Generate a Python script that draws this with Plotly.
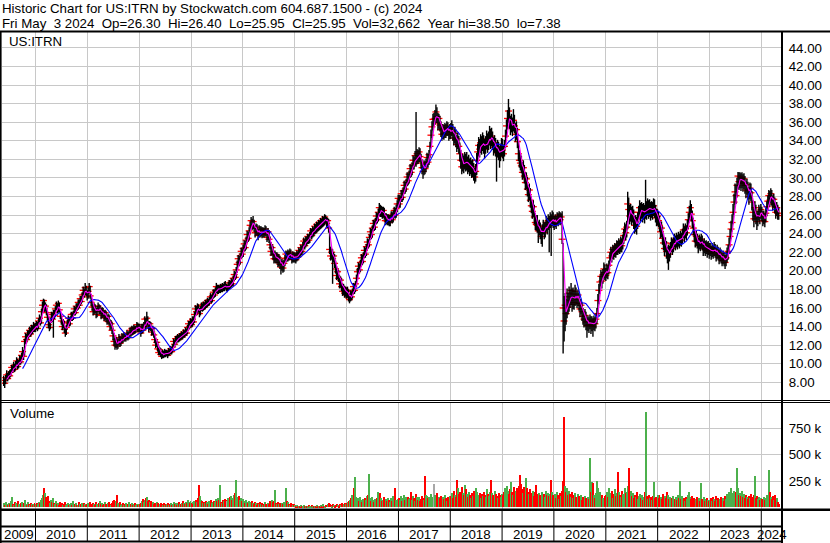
import pandas as pd
import plotly.graph_objects as go

# ---------------- weekly data, one block per calendar year ----------------
c2009 = [8.2, 7.9, 8.5, 8.8, 8.4, 8.9, 8.7, 9.1, 9.6, 9.3, 9.8, 9.4, 9.9, 10.3, 9.7, 10.1, 10.5, 10.2, 10.9, 11.3, 10.8, 12.4, 12.9, 12.6, 13.3, 13.0, 13.6, 13.2, 13.8, 13.5, 14.1, 13.7]
h2009 = [8.7, 8.4, 8.8, 9.3, 9.0, 9.2, 9.3, 9.4, 9.9, 9.8, 10.2, 10.0, 10.3, 10.7, 10.5, 10.4, 10.9, 10.8, 11.2, 11.8, 11.5, 12.7, 13.3, 13.2, 13.6, 13.6, 14.0, 13.9, 14.2, 14.1, 14.5, 14.3]
l2009 = [7.6, 7.38, 7.8, 8.3, 8.1, 8.3, 8.4, 8.6, 9.0, 9.0, 9.2, 9.1, 9.3, 9.8, 9.4, 9.5, 9.9, 9.9, 10.1, 10.7, 10.4, 10.9, 12.1, 12.2, 12.5, 12.7, 12.9, 12.9, 13.1, 13.2, 13.4, 13.4]
v2009 = [40, 25, 55, 30, 20, 45, 35, 60, 100, 30, 25, 50, 40, 30, 65, 35, 25, 45, 55, 30, 40, 70, 35, 25, 50, 30, 20, 40, 35, 25, 30, 45]

c2010 = [13.9, 14.3, 13.8, 14.6, 14.9, 14.4, 15.6, 16.3, 16.8, 15.9, 16.2, 15.5, 15.0, 14.2, 13.9, 14.6, 15.3, 14.8, 15.5, 15.2, 15.9, 16.3, 15.7, 16.5, 15.8, 15.1, 14.6, 14.0, 14.5, 13.7, 13.3, 13.9, 14.4, 14.9, 14.3, 14.8, 15.3, 14.9, 15.4, 15.9, 15.5, 16.2, 16.0, 16.6, 16.3, 17.0, 16.7, 17.4, 17.9, 17.5, 18.2, 17.6, 17.2]
h2010 = [14.4, 14.6, 14.5, 14.9, 15.3, 15.1, 15.9, 16.7, 17.0, 16.9, 16.6, 16.4, 15.7, 15.2, 14.5, 14.9, 15.6, 15.5, 15.8, 15.8, 16.2, 16.7, 16.5, 16.8, 16.6, 15.9, 15.3, 14.8, 14.8, 14.6, 13.9, 14.2, 14.7, 15.2, 15.0, 15.1, 15.6, 15.5, 15.7, 16.2, 16.1, 16.5, 16.5, 16.9, 16.9, 17.3, 17.3, 17.7, 18.3, 18.1, 18.7, 18.4, 17.9]
l2010 = [13.4, 13.7, 13.5, 13.7, 14.3, 14.1, 14.3, 15.4, 16.0, 15.6, 15.6, 15.2, 14.6, 13.8, 13.5, 13.7, 14.4, 14.5, 12.8, 14.8, 15.0, 15.7, 15.4, 15.5, 15.5, 14.8, 14.2, 13.6, 13.8, 13.3, 12.9, 13.1, 13.7, 14.2, 14.0, 14.1, 14.6, 14.6, 14.7, 15.2, 15.2, 15.4, 15.7, 15.8, 16.0, 16.2, 16.4, 16.6, 17.2, 17.1, 17.4, 17.3, 16.8]
v2010 = [35, 25, 40, 30, 55, 45, 70, 90, 120, 183, 140, 95, 80, 110, 60, 45, 75, 50, 90, 40, 35, 60, 30, 45, 25, 50, 35, 40, 20, 30, 55, 25, 35, 45, 20, 30, 40, 25, 60, 35, 30, 45, 20, 25, 50, 35, 30, 40, 25, 45, 30, 20, 35]

c2011 = [17.8, 18.3, 17.3, 16.6, 16.1, 15.6, 16.2, 15.8, 15.3, 15.9, 16.2, 15.6, 15.9, 15.2, 15.7, 15.4, 15.0, 15.5, 14.9, 14.6, 15.1, 14.5, 14.0, 14.3, 13.6, 13.0, 12.4, 12.0, 12.6, 11.9, 12.3, 12.8, 12.2, 12.5, 12.9, 12.6, 13.1, 12.7, 12.9, 13.3, 12.8, 13.2, 13.6, 13.2, 13.8, 13.4, 13.9, 13.5, 13.8, 14.2, 13.7, 14.0]
h2011 = [18.2, 18.7, 18.4, 17.5, 16.9, 16.4, 16.5, 16.4, 16.0, 16.2, 16.6, 16.4, 16.3, 16.0, 16.1, 16.0, 15.7, 15.8, 15.7, 15.2, 15.4, 15.3, 14.8, 14.7, 14.5, 13.9, 13.3, 12.8, 12.9, 12.8, 12.6, 13.2, 13.0, 12.9, 13.3, 13.2, 13.4, 13.3, 13.2, 13.6, 13.5, 13.5, 13.9, 13.9, 14.1, 14.0, 14.2, 14.1, 14.1, 14.5, 14.4, 14.3]
l2011 = [17.0, 17.6, 17.0, 16.2, 15.7, 15.2, 15.3, 15.4, 14.9, 15.0, 15.6, 15.3, 15.3, 14.8, 14.9, 15.0, 14.6, 14.7, 14.5, 14.2, 14.3, 14.1, 13.6, 13.7, 13.2, 12.5, 11.9, 11.5, 11.7, 11.5, 11.6, 12.0, 11.8, 11.9, 12.2, 12.2, 12.4, 12.4, 12.4, 12.6, 12.5, 12.6, 12.9, 12.9, 13.0, 13.1, 13.2, 13.2, 13.3, 13.6, 13.4, 13.4]
v2011 = [40, 30, 55, 25, 35, 45, 30, 20, 50, 35, 25, 40, 60, 30, 45, 25, 35, 50, 30, 20, 40, 55, 35, 25, 45, 60, 70, 50, 65, 120, 40, 35, 50, 25, 30, 45, 20, 35, 40, 25, 30, 50, 20, 35, 45, 25, 30, 40, 20, 35, 25, 30]

c2012 = [13.7, 13.3, 14.0, 13.6, 14.2, 14.8, 14.0, 14.9, 14.4, 13.8, 14.3, 13.9, 13.4, 13.8, 13.1, 12.6, 12.0, 12.3, 11.6, 11.2, 11.5, 11.0, 10.8, 11.2, 10.9, 11.3, 11.0, 11.2, 10.9, 11.4, 11.2, 11.6, 11.3, 11.8, 12.4, 12.1, 12.7, 12.5, 12.9, 12.6, 13.0, 12.8, 13.2, 12.9, 13.4, 13.1, 13.6, 13.3, 13.9, 14.3, 14.0, 14.6]
h2012 = [14.3, 14.0, 14.3, 14.3, 14.5, 15.1, 14.9, 15.6, 15.1, 14.6, 14.6, 14.5, 14.1, 14.1, 13.9, 13.3, 12.8, 12.6, 12.4, 11.9, 11.8, 11.7, 11.3, 11.5, 11.4, 11.6, 11.5, 11.5, 11.4, 11.7, 11.6, 11.9, 11.8, 12.1, 12.7, 12.6, 13.0, 13.0, 13.2, 13.1, 13.3, 13.3, 13.5, 13.4, 13.7, 13.6, 13.9, 13.8, 14.2, 14.6, 14.6, 14.9]
l2012 = [13.4, 12.9, 13.2, 13.3, 13.5, 14.0, 13.7, 13.9, 14.1, 13.4, 13.6, 13.5, 13.0, 13.1, 12.8, 12.2, 11.7, 11.8, 11.3, 10.9, 10.9, 10.7, 10.5, 10.6, 10.6, 10.7, 10.7, 10.8, 10.6, 10.8, 10.9, 11.0, 11.0, 11.2, 11.7, 11.8, 12.0, 12.2, 12.3, 12.3, 12.4, 12.5, 12.6, 12.6, 12.8, 12.8, 13.0, 13.0, 13.2, 13.7, 13.7, 13.9]
v2012 = [30, 45, 60, 80, 55, 70, 90, 100, 65, 75, 50, 60, 40, 55, 35, 45, 30, 50, 40, 25, 35, 45, 30, 20, 40, 25, 35, 30, 45, 20, 30, 40, 25, 35, 50, 30, 45, 25, 40, 55, 35, 30, 45, 60, 40, 35, 50, 45, 70, 55, 40, 60]

c2013 = [14.2, 14.8, 14.5, 15.3, 15.9, 15.6, 16.2, 15.8, 15.4, 15.9, 16.3, 15.9, 16.4, 16.1, 16.6, 16.3, 16.8, 16.5, 16.9, 17.2, 16.8, 17.3, 17.7, 17.4, 17.9, 18.3, 17.8, 18.2, 17.9, 18.3, 18.0, 18.4, 18.1, 18.5, 18.4, 18.1, 18.1, 18.3, 18.7, 18.4, 18.9, 18.6, 19.2, 19.6, 19.3, 20.1, 20.7, 21.3, 20.9, 21.6, 22.1, 21.8]
h2013 = [14.8, 15.1, 15.1, 15.6, 16.3, 16.2, 16.5, 16.4, 16.0, 16.2, 16.6, 16.5, 16.7, 16.6, 16.9, 16.8, 17.1, 17.0, 17.2, 17.6, 17.4, 17.6, 18.0, 18.0, 18.2, 18.7, 18.5, 18.5, 18.4, 18.6, 18.5, 18.7, 18.6, 18.8, 18.9, 18.6, 18.5, 18.8, 19.0, 18.9, 19.2, 19.1, 19.5, 20.0, 19.9, 20.4, 21.1, 21.7, 21.6, 21.9, 22.5, 22.4]
l2013 = [13.9, 14.0, 14.2, 14.4, 15.1, 15.2, 15.4, 15.5, 15.0, 15.2, 15.7, 15.6, 15.7, 15.8, 15.9, 16.0, 16.1, 16.2, 16.3, 16.6, 16.5, 16.6, 17.0, 17.1, 17.2, 17.6, 17.5, 17.5, 17.6, 17.6, 17.7, 17.7, 17.8, 17.8, 18.0, 17.8, 17.7, 17.9, 18.0, 18.1, 18.2, 18.3, 18.4, 18.9, 19.0, 19.2, 19.8, 20.4, 20.5, 20.7, 21.3, 21.4]
v2013 = [40, 55, 35, 60, 45, 70, 50, 85, 214, 110, 75, 60, 45, 55, 40, 65, 50, 35, 60, 45, 70, 40, 55, 65, 50, 80, 60, 90, 70, 214, 55, 45, 75, 60, 80, 70, 65, 85, 60, 95, 110, 75, 90, 120, 140, 261, 95, 80, 110, 70, 90, 65]

c2014 = [22.4, 22.9, 22.5, 23.3, 23.9, 23.5, 24.3, 24.9, 25.4, 24.8, 25.3, 24.6, 24.1, 24.7, 24.2, 23.8, 24.5, 24.0, 24.4, 23.9, 24.3, 24.0, 24.5, 24.1, 23.6, 24.2, 23.4, 22.8, 22.1, 22.5, 21.7, 21.3, 21.8, 21.2, 21.6, 20.9, 21.4, 20.7, 20.4, 20.9, 20.3, 20.8, 21.3, 21.8, 21.4, 21.9, 21.5, 22.0, 21.6, 21.2, 21.7, 21.3]
h2014 = [22.8, 23.3, 23.2, 23.7, 24.3, 24.2, 24.7, 25.3, 25.8, 25.6, 25.9, 25.5, 24.9, 25.1, 25.0, 24.5, 24.9, 24.8, 24.8, 24.7, 24.7, 24.6, 24.9, 24.8, 24.4, 24.6, 24.4, 23.7, 23.1, 22.9, 22.7, 22.0, 22.2, 22.0, 22.0, 21.8, 21.8, 21.6, 21.1, 21.3, 21.1, 21.2, 21.7, 22.2, 22.1, 22.3, 22.2, 22.4, 22.3, 21.9, 22.1, 22.0]
l2014 = [21.5, 22.1, 22.1, 22.3, 23.0, 23.1, 23.3, 24.0, 24.6, 24.4, 24.5, 24.2, 23.6, 23.8, 23.8, 23.3, 23.6, 23.6, 23.7, 23.5, 23.6, 23.6, 23.7, 23.7, 23.1, 23.3, 23.0, 22.3, 21.6, 21.7, 21.2, 20.8, 20.9, 20.8, 20.8, 20.4, 20.5, 20.2, 19.6, 20.0, 19.8, 19.9, 20.5, 20.9, 21.0, 21.0, 21.1, 21.2, 21.2, 20.8, 20.9, 20.9]
v2014 = [80, 60, 45, 70, 55, 40, 65, 50, 35, 60, 45, 30, 50, 40, 25, 45, 35, 55, 30, 40, 25, 35, 50, 30, 20, 40, 35, 60, 45, 70, 55, 65, 167, 40, 35, 50, 30, 45, 25, 40, 35, 55, 30, 183, 60, 50, 35, 25, 40, 30, 20, 35]

c2015 = [21.6, 21.2, 21.9, 21.5, 22.2, 21.8, 22.5, 22.1, 22.8, 23.2, 22.7, 23.4, 23.1, 23.7, 23.3, 23.9, 24.3, 23.8, 24.5, 24.1, 24.8, 24.4, 25.0, 24.6, 25.2, 24.8, 25.4, 25.0, 25.6, 25.2, 25.8, 25.5, 25.1, 25.4, 24.6, 22.3, 21.6, 22.0, 21.3, 21.6, 20.8, 20.2, 19.5, 19.9, 19.2, 18.6, 19.0, 18.3, 17.8, 18.2, 17.6, 18.0]
h2015 = [22.0, 21.9, 22.2, 22.1, 22.5, 22.4, 22.8, 22.7, 23.1, 23.6, 23.4, 23.7, 23.7, 24.0, 23.9, 24.2, 24.6, 24.5, 24.8, 24.7, 25.1, 25.0, 25.3, 25.2, 25.5, 25.4, 25.7, 25.6, 25.9, 25.8, 26.1, 26.0, 25.8, 25.7, 25.6, 24.8, 22.6, 22.4, 22.3, 22.0, 21.8, 21.1, 20.5, 20.3, 20.1, 19.5, 19.4, 19.2, 18.6, 18.6, 18.4, 18.3]
l2015 = [20.9, 20.8, 21.0, 21.1, 21.3, 21.4, 21.6, 21.7, 21.9, 22.5, 22.3, 22.5, 22.7, 22.9, 22.9, 23.0, 23.6, 23.4, 23.6, 23.7, 23.9, 24.0, 24.1, 24.2, 24.3, 24.4, 24.5, 24.6, 24.7, 24.8, 24.9, 25.1, 24.7, 24.6, 24.1, 21.8, 21.1, 21.2, 18.6, 20.9, 20.3, 19.7, 19.0, 19.1, 18.8, 18.1, 18.2, 17.8, 17.3, 17.4, 17.1, 17.2]
v2015 = [20, 15, 25, 10, 18, 12, 22, 15, 10, 20, 14, 8, 16, 12, 25, 10, 15, 20, 12, 9, 18, 14, 22, 10, 16, 12, 20, 15, 30, 18, 12, 25, 20, 35, 40, 28, 22, 18, 30, 25, 15, 20, 35, 25, 18, 30, 22, 40, 28, 35, 45, 30]

c2016 = [17.4, 17.9, 17.1, 16.9, 17.5, 17.2, 17.8, 18.3, 17.9, 18.6, 19.2, 19.9, 20.5, 20.1, 20.9, 21.4, 21.0, 21.7, 22.2, 21.8, 22.6, 23.1, 22.8, 23.6, 24.2, 23.9, 24.6, 25.1, 24.7, 25.4, 25.9, 25.5, 26.3, 26.8, 26.2, 26.6, 26.0, 26.5, 25.9, 25.4, 25.8, 25.3, 25.7, 25.2, 25.6, 26.0, 25.5, 26.1, 26.5, 26.0, 26.7, 27.2, 27.8]
h2016 = [18.2, 18.3, 18.0, 17.5, 17.9, 17.8, 18.1, 18.7, 18.6, 18.9, 19.6, 20.3, 20.9, 20.8, 21.2, 21.8, 21.7, 22.0, 22.6, 22.5, 22.9, 23.5, 23.4, 23.9, 24.6, 24.5, 24.9, 25.5, 25.4, 25.7, 26.3, 26.2, 26.7, 27.3, 27.1, 27.0, 26.9, 26.9, 26.8, 26.2, 26.2, 26.1, 26.1, 26.0, 26.0, 26.4, 26.3, 26.5, 26.9, 26.8, 27.1, 27.6, 28.2]
l2016 = [17.0, 17.1, 16.7, 16.5, 16.7, 16.8, 17.0, 17.5, 17.5, 17.7, 18.3, 19.0, 19.6, 19.7, 19.9, 20.6, 20.6, 20.8, 21.4, 21.4, 21.6, 22.3, 22.4, 22.6, 23.3, 23.4, 23.6, 24.3, 24.3, 24.4, 25.0, 25.1, 25.3, 25.9, 25.8, 25.8, 25.6, 25.7, 25.5, 24.9, 25.0, 24.9, 24.9, 24.8, 24.8, 25.2, 25.1, 25.2, 25.7, 25.6, 25.7, 26.3, 26.8]
v2016 = [40, 55, 35, 60, 75, 90, 120, 110, 183, 292, 95, 70, 85, 60, 100, 75, 55, 80, 65, 90, 70, 110, 120, 315, 85, 60, 95, 75, 50, 80, 65, 90, 150, 70, 140, 85, 60, 75, 100, 55, 80, 65, 90, 70, 50, 85, 60, 110, 95, 183, 70, 60, 80]

c2017 = [27.2, 27.7, 28.3, 27.9, 28.6, 29.2, 28.8, 29.5, 30.1, 29.7, 30.4, 31.0, 30.6, 31.3, 31.9, 31.5, 32.4, 31.8, 32.6, 32.1, 32.8, 32.3, 31.6, 31.1, 30.7, 31.4, 31.0, 31.6, 32.2, 31.7, 32.5, 33.4, 34.6, 35.5, 36.3, 36.3, 36.4, 37.1, 36.6, 35.9, 36.4, 35.7, 35.2, 34.7, 35.3, 34.8, 35.4, 35.0, 35.6, 35.2, 34.7, 35.3]
h2017 = [28.2, 28.1, 28.7, 28.7, 29.0, 29.7, 29.6, 29.9, 30.6, 30.5, 30.8, 31.5, 31.4, 31.7, 32.4, 32.3, 32.9, 37.1, 33.1, 33.0, 33.3, 33.2, 32.6, 32.0, 31.6, 31.9, 31.8, 32.1, 32.7, 32.6, 33.0, 33.9, 35.2, 36.1, 36.9, 37.0, 37.3, 37.9, 37.6, 37.0, 36.9, 36.7, 36.1, 35.6, 35.8, 35.7, 35.9, 35.8, 36.1, 36.0, 35.6, 35.8]
l2017 = [26.8, 26.8, 27.4, 27.4, 27.6, 28.3, 28.3, 28.5, 29.1, 29.2, 29.4, 30.0, 30.1, 30.3, 30.9, 30.9, 31.3, 31.2, 31.5, 31.5, 31.7, 31.7, 31.0, 30.4, 29.9, 30.3, 30.4, 30.6, 31.1, 31.1, 31.4, 32.2, 33.2, 34.3, 35.1, 35.6, 35.7, 35.9, 35.9, 35.1, 35.3, 35.0, 34.4, 34.0, 34.2, 34.1, 34.3, 34.3, 34.5, 34.5, 34.0, 34.2]
v2017 = [90, 70, 110, 60, 85, 120, 75, 95, 65, 100, 80, 90, 150, 70, 110, 85, 60, 130, 95, 75, 100, 65, 80, 110, 90, 70, 299, 120, 110, 85, 95, 70, 130, 100, 80, 224, 120, 90, 140, 75, 100, 85, 110, 70, 95, 80, 120, 90, 65, 100, 75, 110]

c2018 = [34.9, 35.4, 34.8, 34.3, 34.8, 34.1, 33.6, 34.2, 33.4, 32.6, 31.9, 31.2, 31.8, 31.3, 32.0, 31.5, 31.9, 31.2, 31.7, 31.0, 31.4, 30.8, 31.2, 30.5, 30.1, 30.7, 31.9, 32.8, 33.5, 33.1, 33.8, 33.4, 34.0, 33.5, 33.1, 33.7, 34.2, 33.6, 34.1, 34.6, 34.0, 34.5, 33.9, 33.3, 33.8, 33.2, 32.7, 33.3, 32.8, 32.3, 32.9, 33.4]
h2018 = [35.9, 36.2, 35.8, 35.2, 35.5, 35.2, 34.6, 34.9, 34.5, 33.8, 33.0, 32.4, 32.6, 32.4, 32.8, 32.6, 32.8, 32.3, 32.5, 32.1, 32.2, 31.9, 32.0, 31.6, 31.1, 31.5, 32.7, 33.7, 34.4, 34.2, 34.7, 34.5, 34.9, 34.6, 34.2, 34.5, 35.1, 34.8, 35.0, 35.6, 35.3, 35.4, 35.0, 34.4, 34.6, 34.3, 33.8, 34.1, 33.9, 33.4, 33.7, 34.3]
l2018 = [34.2, 34.5, 34.0, 33.5, 33.7, 33.3, 32.8, 33.1, 32.6, 31.8, 31.0, 30.4, 30.7, 30.5, 30.9, 30.7, 30.8, 30.4, 30.6, 30.2, 30.4, 30.0, 30.1, 29.7, 29.4, 29.6, 30.3, 31.5, 32.3, 32.2, 32.7, 32.5, 32.9, 32.6, 32.1, 32.6, 33.1, 32.7, 33.0, 33.5, 33.1, 33.4, 33.0, 32.4, 32.7, 32.3, 29.6, 32.2, 31.9, 31.1, 31.8, 32.3]
v2018 = [110, 140, 90, 160, 120, 100, 261, 180, 130, 150, 110, 190, 140, 120, 214, 170, 130, 100, 150, 120, 90, 140, 110, 160, 130, 180, 150, 120, 100, 140, 90, 130, 110, 150, 120, 100, 170, 130, 110, 150, 261, 140, 120, 100, 160, 130, 110, 90, 140, 120, 100, 130]

c2019 = [33.0, 32.6, 33.4, 34.5, 35.6, 36.4, 37.2, 36.1, 35.4, 36.0, 35.3, 36.2, 35.6, 34.7, 35.2, 33.9, 32.6, 31.9, 31.6, 31.3, 30.6, 31.1, 30.2, 29.5, 29.9, 28.8, 28.2, 28.7, 27.6, 27.0, 26.4, 26.9, 25.8, 25.2, 25.0, 24.9, 24.3, 24.8, 24.2, 23.7, 24.3, 24.8, 24.1, 24.6, 25.2, 24.7, 25.4, 25.0, 25.6, 25.2, 25.8, 25.4]
h2019 = [34.2, 33.6, 34.1, 35.2, 36.3, 37.3, 38.5, 37.6, 36.7, 36.9, 36.5, 37.4, 36.8, 35.9, 36.1, 35.4, 34.1, 33.0, 32.6, 32.4, 31.7, 31.9, 31.4, 30.6, 30.6, 30.1, 29.2, 29.4, 28.9, 28.0, 27.4, 27.6, 27.1, 26.2, 26.0, 26.0, 25.3, 25.5, 25.2, 24.7, 25.0, 25.5, 25.2, 25.3, 25.9, 25.7, 26.1, 25.9, 26.3, 26.1, 26.5, 26.3]
l2019 = [32.1, 31.8, 32.3, 33.2, 34.3, 35.2, 35.9, 35.3, 34.6, 34.9, 34.5, 35.0, 34.8, 33.9, 34.1, 33.2, 31.8, 31.1, 30.8, 30.5, 29.8, 30.0, 29.4, 28.7, 28.8, 28.0, 27.4, 27.6, 26.8, 26.2, 25.6, 25.8, 25.0, 24.4, 24.3, 24.1, 23.0, 23.8, 23.4, 22.9, 22.6, 23.9, 23.4, 23.6, 24.2, 23.9, 24.4, 22.0, 24.6, 21.6, 24.8, 24.6]
v2019 = [120, 150, 100, 180, 140, 200, 160, 130, 170, 245, 150, 120, 190, 140, 160, 180, 130, 200, 308, 220, 170, 140, 190, 160, 276, 180, 150, 130, 170, 140, 120, 160, 110, 150, 214, 130, 100, 140, 120, 90, 150, 110, 130, 100, 160, 120, 140, 110, 130, 261, 150, 120]

c2020 = [25.0, 25.6, 25.1, 25.9, 25.4, 26.0, 25.5, 25.8, 23.4, 16.0, 14.6, 16.3, 15.4, 17.2, 16.1, 17.6, 16.8, 17.9, 16.4, 17.5, 16.6, 17.8, 17.1, 16.9, 17.4, 16.5, 15.9, 16.3, 15.6, 15.1, 14.8, 15.2, 14.5, 14.1, 14.6, 14.2, 14.7, 14.1, 14.5, 14.0, 14.6, 14.3, 14.8, 15.4, 16.8, 17.9, 18.8, 19.4, 18.9, 19.6, 20.2, 19.8]
h2020 = [25.9, 26.1, 25.9, 26.3, 26.2, 26.4, 26.3, 26.2, 26.4, 23.0, 17.3, 17.6, 17.0, 18.1, 17.6, 18.3, 18.0, 18.7, 18.1, 18.2, 17.9, 18.5, 18.2, 17.7, 18.0, 17.6, 16.9, 17.0, 16.6, 16.0, 15.7, 15.9, 15.6, 15.0, 15.2, 15.0, 15.3, 15.1, 15.1, 14.9, 15.2, 15.0, 15.4, 16.0, 17.5, 18.6, 19.5, 20.1, 19.9, 20.2, 20.9, 20.7]
l2020 = [24.4, 24.7, 24.5, 24.9, 24.8, 25.0, 24.9, 25.0, 22.9, 11.1, 12.4, 13.5, 14.2, 14.9, 15.3, 15.6, 16.0, 16.3, 15.6, 15.9, 15.8, 16.2, 16.3, 16.0, 16.2, 15.7, 15.0, 15.3, 14.6, 14.2, 13.9, 14.0, 13.6, 12.8, 13.5, 13.3, 13.7, 13.2, 13.5, 12.9, 13.6, 13.5, 13.8, 14.3, 15.1, 16.4, 17.5, 18.3, 18.1, 18.6, 19.2, 19.0]
v2020 = [100, 130, 90, 150, 120, 80, 140, 110, 160, 250, 859, 200, 150, 180, 120, 160, 130, 100, 150, 90, 120, 140, 100, 80, 130, 110, 90, 120, 70, 100, 80, 110, 90, 60, 100, 80, 466, 150, 240, 230, 120, 90, 140, 250, 180, 130, 150, 100, 120, 90, 80, 110]

c2021 = [19.5, 20.2, 19.8, 20.6, 21.4, 22.0, 21.6, 22.3, 21.9, 22.5, 22.1, 22.7, 22.4, 22.9, 22.5, 23.1, 22.7, 23.3, 23.8, 24.5, 24.1, 24.7, 27.2, 26.6, 25.9, 26.4, 25.8, 26.3, 25.4, 24.9, 25.3, 24.8, 25.6, 26.3, 26.8, 26.2, 26.7, 26.1, 26.6, 26.0, 26.9, 26.4, 27.0, 26.5, 26.9, 26.3, 26.8, 26.4, 27.0, 26.6, 26.1, 25.7, 25.9]
h2021 = [20.3, 20.8, 20.6, 21.1, 22.0, 22.6, 22.4, 22.8, 22.7, 23.0, 22.9, 23.3, 23.2, 23.5, 23.3, 23.7, 23.5, 23.9, 24.5, 25.2, 25.0, 25.4, 28.5, 27.9, 27.1, 27.2, 26.9, 27.0, 26.6, 25.9, 26.0, 25.8, 26.3, 27.0, 27.6, 27.3, 27.4, 27.2, 27.3, 27.1, 29.8, 27.5, 27.8, 27.6, 27.7, 27.4, 27.5, 27.4, 27.8, 27.7, 27.1, 26.7, 26.6]
l2021 = [18.9, 19.2, 19.1, 19.6, 20.4, 21.0, 20.9, 21.3, 21.2, 21.5, 21.4, 21.7, 21.7, 21.9, 21.8, 22.0, 22.0, 22.3, 22.9, 23.4, 23.3, 23.6, 24.5, 25.6, 25.0, 25.3, 24.9, 25.2, 24.5, 24.0, 24.2, 23.9, 24.5, 25.2, 25.8, 25.3, 25.6, 25.2, 25.5, 25.1, 25.6, 25.5, 25.9, 25.6, 25.8, 25.4, 25.7, 25.5, 25.9, 25.7, 25.2, 24.8, 24.9]
v2021 = [120, 150, 100, 180, 140, 110, 160, 90, 130, 170, 110, 140, 340, 150, 120, 100, 160, 130, 110, 180, 140, 150, 200, 377, 130, 160, 110, 140, 90, 120, 100, 150, 80, 110, 130, 90, 120, 70, 100, 150, 900, 110, 80, 120, 90, 100, 70, 110, 245, 85, 100, 80, 120]

c2022 = [25.4, 24.9, 24.2, 24.6, 23.5, 23.0, 22.4, 23.0, 22.1, 21.6, 22.2, 21.8, 22.5, 22.9, 22.4, 23.0, 23.4, 22.9, 23.5, 23.0, 23.6, 23.1, 23.7, 23.3, 23.9, 24.4, 23.9, 24.5, 24.1, 24.8, 25.5, 26.3, 26.8, 26.1, 25.4, 24.6, 23.9, 23.2, 23.7, 23.1, 22.7, 23.3, 22.8, 23.4, 22.9, 22.4, 22.9, 22.3, 22.7, 22.2, 22.6, 22.1]
h2022 = [26.4, 25.9, 25.3, 25.3, 24.8, 24.0, 23.4, 23.6, 23.2, 22.6, 22.8, 22.7, 23.1, 23.6, 23.4, 23.6, 24.0, 23.8, 24.1, 23.9, 24.2, 24.0, 24.3, 24.1, 24.5, 25.1, 24.8, 25.1, 24.9, 25.5, 26.2, 27.0, 27.6, 27.2, 26.5, 25.7, 25.0, 24.3, 24.3, 24.0, 23.6, 23.9, 23.7, 24.0, 23.8, 23.3, 23.5, 23.2, 23.3, 23.1, 23.2, 23.0]
l2022 = [24.7, 24.2, 23.5, 23.6, 22.8, 22.2, 21.6, 22.0, 21.3, 20.8, 20.1, 21.0, 21.4, 22.0, 21.7, 22.0, 22.5, 22.2, 22.5, 22.3, 22.6, 22.4, 22.7, 22.6, 22.9, 23.5, 23.1, 23.5, 23.3, 23.8, 24.5, 25.2, 25.8, 25.3, 24.6, 23.8, 23.1, 22.5, 22.7, 22.4, 21.9, 22.3, 22.1, 22.4, 22.2, 21.6, 21.9, 21.6, 21.8, 21.4, 21.7, 21.3]
v2022 = [90, 120, 70, 100, 80, 130, 60, 110, 90, 150, 120, 80, 100, 70, 90, 110, 60, 80, 100, 70, 120, 90, 250, 80, 110, 70, 90, 60, 100, 80, 120, 150, 100, 80, 110, 70, 90, 60, 80, 100, 70, 90, 60, 230, 80, 70, 100, 60, 80, 90, 70, 60]

c2023 = [22.3, 21.9, 22.4, 22.0, 22.5, 22.1, 21.7, 22.2, 21.8, 21.4, 21.9, 21.5, 21.1, 21.6, 21.2, 20.9, 21.4, 21.9, 22.1, 22.8, 23.7, 24.5, 25.2, 26.3, 27.4, 28.5, 28.1, 29.2, 30.2, 29.6, 30.1, 29.5, 30.0, 29.4, 29.9, 29.2, 28.7, 29.3, 28.6, 28.0, 28.9, 28.4, 27.4, 26.3, 25.6, 26.8, 25.9, 25.3, 25.8, 26.4, 25.9, 26.6]
h2023 = [23.0, 22.7, 23.0, 22.8, 23.1, 22.9, 22.5, 22.8, 22.6, 22.2, 22.5, 22.3, 21.9, 22.2, 22.0, 21.7, 22.0, 22.5, 22.8, 23.6, 24.5, 25.4, 26.1, 27.2, 28.3, 29.4, 29.3, 30.0, 30.65, 30.6, 30.6, 30.5, 30.6, 30.4, 30.5, 30.2, 29.7, 29.9, 29.6, 29.0, 29.5, 29.4, 28.6, 27.6, 26.7, 27.5, 27.1, 26.3, 26.5, 27.1, 26.9, 27.2]
l2023 = [21.6, 21.2, 21.5, 21.3, 21.6, 21.4, 21.0, 21.3, 21.1, 20.7, 21.0, 20.8, 20.5, 20.7, 20.5, 20.2, 20.5, 20.9, 21.2, 21.8, 22.6, 23.4, 24.2, 25.0, 26.0, 27.1, 27.2, 27.9, 28.8, 28.7, 28.9, 28.6, 28.9, 28.5, 28.8, 28.3, 27.8, 28.2, 27.7, 27.1, 27.7, 27.5, 26.5, 25.4, 24.7, 25.4, 25.0, 24.4, 24.8, 25.4, 25.0, 25.6]
v2023 = [70, 90, 60, 100, 80, 60, 110, 70, 90, 60, 80, 100, 70, 90, 60, 110, 80, 130, 100, 150, 120, 180, 140, 110, 160, 130, 150, 372, 180, 120, 140, 110, 160, 100, 130, 90, 120, 100, 80, 110, 90, 130, 100, 80, 120, 300, 90, 110, 80, 100, 70, 90]

c2024 = [26.0, 25.4, 25.9, 25.3, 26.2, 26.9, 27.5, 28.1, 27.6, 28.3, 27.8, 27.2, 27.7, 26.9, 26.3, 26.8, 26.2, 25.95]
h2024 = [26.9, 26.4, 26.5, 26.2, 26.8, 27.5, 28.1, 28.7, 28.6, 28.9, 28.7, 28.1, 28.3, 27.9, 27.2, 27.4, 27.1, 26.8]
l2024 = [25.3, 24.8, 25.0, 24.7, 25.2, 25.9, 26.5, 27.1, 26.9, 27.3, 27.0, 26.5, 26.8, 26.2, 25.6, 25.9, 25.5, 25.5]
v2024 = [80, 60, 100, 70, 90, 120, 80, 355, 150, 100, 80, 110, 70, 120, 60, 90, 50, 33]

price_ticks = [8, 10, 12, 14, 16, 18, 20, 22, 24, 26, 28, 30, 32, 34, 36, 38, 40, 42, 44]
vol_ticks = [250000, 500000, 750000]
vol_tick_text = ["250 k", "500 k", "750 k"]
year_labels = list(range(2009, 2025))

header1 = "Historic Chart for US:ITRN by Stockwatch.com 604.687.1500 - (c) 2024"
header2 = ("Fri May \u00a03 2024 \u00a0Op=26.30 \u00a0Hi=26.40 \u00a0Lo=25.95 \u00a0Cl=25.95"
           " \u00a0Vol=32,662 \u00a0Year hi=38.50 \u00a0lo=7.38")

# ---------------- assemble ----------------
closes = (c2009 + c2010 + c2011 + c2012 + c2013 + c2014 + c2015 + c2016 +
          c2017 + c2018 + c2019 + c2020 + c2021 + c2022 + c2023 + c2024)
highs = (h2009 + h2010 + h2011 + h2012 + h2013 + h2014 + h2015 + h2016 +
         h2017 + h2018 + h2019 + h2020 + h2021 + h2022 + h2023 + h2024)
lows = (l2009 + l2010 + l2011 + l2012 + l2013 + l2014 + l2015 + l2016 +
        l2017 + l2018 + l2019 + l2020 + l2021 + l2022 + l2023 + l2024)
vols_k = (v2009 + v2010 + v2011 + v2012 + v2013 + v2014 + v2015 + v2016 +
          v2017 + v2018 + v2019 + v2020 + v2021 + v2022 + v2023 + v2024)

n = len(closes)
dates = pd.date_range(end="2024-05-03", periods=n, freq="W-FRI")
s = pd.Series(closes)
ma_fast = s.rolling(4).mean()
ma_slow = s.rolling(20).mean()
volumes = [v * 1000 for v in vols_k]

GREEN, RED, GRAY = "#4cb04c", "#ff0000", "#a8a8a8"
vcolors = []
for i in range(n):
    d = 1 if i == 0 else closes[i] - closes[i - 1]
    vcolors.append(GREEN if d > 0 else (RED if d < 0 else GRAY))

bx, by = [], []
for d, lo, hi in zip(dates, lows, highs):
    bx += [d, d, None]
    by += [lo, hi, None]

# ---------------- geometry (pixels) ----------------
W, H = 830, 543
ML, MR, MT, MB = 2, 48, 32, 34
PW, PH = W - ML - MR, H - MT - MB


def fx(px):
    return (px - ML) / PW


def fy(py):
    return (H - MB - py) / PH


PRICE_BOTTOM_PY, VOL_TOP_PY = 400, 403
P8_PY, PX_PER_DOLLAR = 382.3, 9.29
price_range = [8 - (PRICE_BOTTOM_PY - P8_PY) / PX_PER_DOLLAR, 8 + (P8_PY - MT) / PX_PER_DOLLAR]
vol_range = [-15000, 990000]
x_start, x_end = pd.Timestamp("2009-05-10"), pd.Timestamp("2024-05-26")

FONT = "Liberation Sans, Arial, sans-serif"
GRID = "#c8c8c8"

fig = go.Figure()
# red close ticks first, so the black high-low bars cover most of them
fig.add_trace(go.Scatter(x=dates, y=closes, mode="markers", xaxis="x", yaxis="y",
                         marker=dict(symbol="line-ew", size=5, color=RED,
                                     line=dict(color=RED, width=1.3)),
                         hoverinfo="skip", showlegend=False))
fig.add_trace(go.Scatter(x=bx, y=by, mode="lines", xaxis="x", yaxis="y",
                         line=dict(color="black", width=1.4), hoverinfo="skip",
                         showlegend=False, connectgaps=False))
fig.add_trace(go.Scatter(x=dates, y=ma_slow, mode="lines", xaxis="x", yaxis="y",
                         line=dict(color="#0000ff", width=1.1), showlegend=False))
fig.add_trace(go.Scatter(x=dates, y=ma_fast, mode="lines", xaxis="x", yaxis="y",
                         line=dict(color="#ff00ff", width=1.1), showlegend=False))
fig.add_trace(go.Bar(x=dates, y=volumes, xaxis="x2", yaxis="y2",
                     marker=dict(color=vcolors, line=dict(width=0)), showlegend=False))

xcommon = dict(type="date", range=[x_start, x_end], showgrid=True, gridcolor=GRID,
               gridwidth=1, dtick="M12", tick0="2010-01-01", showticklabels=False,
               ticks="", zeroline=False, showline=False, fixedrange=True)
tickfont = dict(family=FONT, size=13.3, color="black")

annotations = [
    dict(text=header1, x=fx(0), y=fy(8.5), xref="paper", yref="paper", xanchor="left",
         yanchor="middle", showarrow=False, font=tickfont),
    dict(text=header2, x=fx(0), y=fy(23), xref="paper", yref="paper", xanchor="left",
         yanchor="middle", showarrow=False, font=tickfont),
    dict(text="US:ITRN", x=fx(7), y=fy(41.5), xref="paper", yref="paper", xanchor="left",
         yanchor="middle", showarrow=False, font=tickfont),
    dict(text="Volume", x=fx(7.5), y=fy(413.5), xref="paper", yref="paper", xanchor="left",
         yanchor="middle", showarrow=False, font=tickfont),
]
shapes = []
for yr in year_labels:
    a = max(pd.Timestamp(yr, 1, 1), x_start)
    b = min(pd.Timestamp(yr + 1, 1, 1), x_end)
    mid = a + (b - a) / 2
    annotations.append(dict(text=str(yr), x=mid, y=fy(534), xref="x2", yref="paper",
                            xanchor="center", yanchor="middle", showarrow=False,
                            font=tickfont))
    if yr > 2009:
        shapes.append(dict(type="line", xref="x2", yref="paper", x0=a, x1=a,
                           y0=fy(509), y1=fy(541.5), line=dict(color="black", width=1)))


def hline(py, x0, x1, w):
    return dict(type="line", xref="paper", yref="paper", x0=fx(x0), x1=fx(x1),
                y0=fy(py), y1=fy(py), line=dict(color="black", width=w))


def vline(px, y0, y1, w):
    return dict(type="line", xref="paper", yref="paper", x0=fx(px), x1=fx(px),
                y0=fy(y0), y1=fy(y1), line=dict(color="black", width=w))


shapes += [
    hline(31.5, 0, W, 2),
    hline(400.5, 0, W, 1.2),
    hline(402.5, 0, W, 1.2),
    hline(509.8, 0, W, 2.5),
    hline(526.5, 0, 782, 2),
    hline(541.5, 0, 782, 2),
    vline(0.8, 31, H, 1.6),
    vline(782, 31, H, 2),
]

fig.update_layout(
    width=W, height=H, margin=dict(l=ML, r=MR, t=MT, b=MB, autoexpand=False),
    paper_bgcolor="white", plot_bgcolor="white", showlegend=False, bargap=0,
    font=dict(family=FONT, size=13.3, color="black"),
    xaxis=dict(domain=[0, 1], anchor="y", **xcommon),
    xaxis2=dict(domain=[0, 1], anchor="y2", matches="x", **xcommon),
    yaxis=dict(domain=[fy(PRICE_BOTTOM_PY), 1], anchor="x", side="right", range=price_range,
               tickmode="array", tickvals=price_ticks,
               ticktext=["%.2f" % t for t in price_ticks], showgrid=True, gridcolor=GRID,
               zeroline=False, showline=False, ticks="outside", ticklen=3,
               tickcolor="rgba(0,0,0,0)", tickfont=tickfont, fixedrange=True),
    yaxis2=dict(domain=[0, fy(VOL_TOP_PY)], anchor="x2", side="right", range=vol_range,
                tickmode="array", tickvals=vol_ticks, ticktext=vol_tick_text,
                showgrid=True, gridcolor=GRID, zeroline=False, showline=False,
                ticks="outside", ticklen=3, tickcolor="rgba(0,0,0,0)", tickfont=tickfont,
                fixedrange=True),
    annotations=annotations, shapes=shapes,
)

fig.write_html("out.html", config={"displayModeBar": False},
               post_script="document.body.style.margin='0';")
